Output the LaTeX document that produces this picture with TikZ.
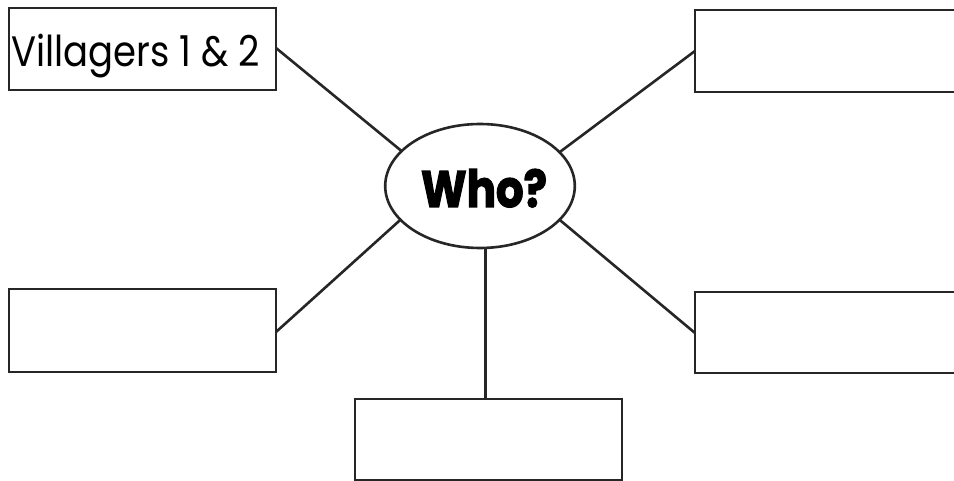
\documentclass[tikz,border=0pt]{standalone}
\usepackage{fontspec}
\setmainfont{Poppins}
\newfontfamily\whofont[BoldFeatures={FakeBold=2.5}]{Poppins}
\usetikzlibrary{shapes.geometric}
\begin{document}
\begin{tikzpicture}[x=1pt,y=-1pt,
  box/.style={draw=black!85,line width=2.8pt,rectangle,minimum width=267pt,inner sep=0pt,outer sep=0pt},
  link/.style={draw=black!85,line width=2.6pt},
  hub/.style={draw=black!85,line width=2.6pt,ellipse,minimum width=184pt,minimum height=124pt,inner sep=0pt,outer sep=0pt}]
\useasboundingbox (0,0) rectangle (954,481);
\node[hub] (who) at (480,186) {\hspace*{8pt}\raisebox{-21pt}[0pt][0pt]{\scalebox{1.06}[1.25]{\fontsize{41}{45}\selectfont\whofont\bfseries Who?}}};
\node[box,minimum height=82pt] (tl) at (142.5,49) {\raisebox{-18pt}[0pt][0pt]{\scalebox{1}[1.15]{\fontsize{37}{42}\selectfont Villagers 1 \& 2}}\hspace*{14pt}};
\node[box,minimum height=82pt] (tr) at (828.5,51) {};
\node[box,minimum height=83pt] (ml) at (142.5,330.5) {};
\node[box,minimum height=81pt] (mr) at (828.5,332.5) {};
\node[box,minimum height=81pt] (bot) at (488.5,439.5) {};
\draw[link] ([yshift=1pt]tl.east) -- (who.156);
\draw[link] (tr.west) -- (who.23);
\draw[link] ([yshift=-1.5pt]ml.east) -- (who.203);
\draw[link] ([yshift=-0.5pt]mr.west) -- (who.337);
\draw[link] (who.275) -- (who.275 |- bot.north);
\end{tikzpicture}
\end{document}
